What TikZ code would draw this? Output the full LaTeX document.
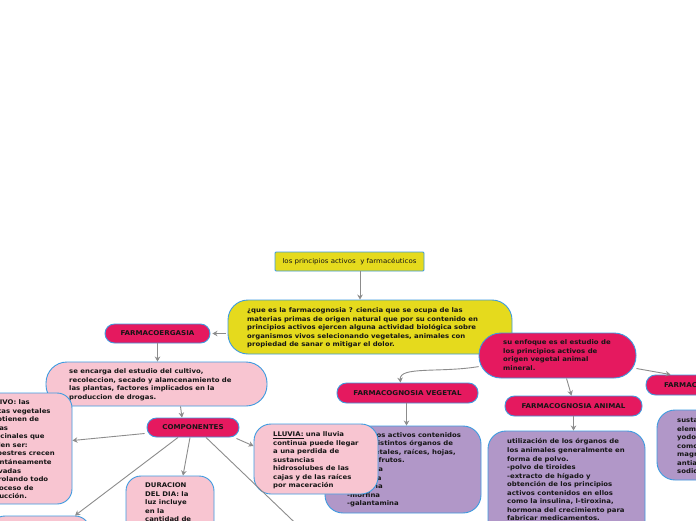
\documentclass[tikz,border=0pt]{standalone}
\usepackage{fontspec}
\setmainfont{DejaVu Sans}[FakeStretch=1.08]
\usetikzlibrary{arrows.meta}
\definecolor{cyel}{HTML}{E5DA1D}
\definecolor{cred}{HTML}{E5195F}
\definecolor{cpink}{HTML}{F8C5D1}
\definecolor{cpur}{HTML}{B197C8}
\definecolor{cblue}{HTML}{3D9BE0}
\definecolor{cgrey}{HTML}{8C8C8C}
\definecolor{ctxt}{HTML}{151515}
\tikzset{
 box/.style={draw=cblue, line width=0.9pt, inner sep=0pt},
 ybox/.style={box, fill=cyel},
 rbox/.style={box, fill=cred, rounded corners=9.5pt, text=ctxt, font=\fontsize{6.6}{8}\selectfont\bfseries},
 pbox/.style={box, fill=cpink},
 vbox/.style={box, fill=cpur},
 txt/.style={anchor=north west, inner sep=0pt, align=left, font=\fontsize{6.4}{8.55}\selectfont\bfseries, text=ctxt},
 conn/.style={draw=cgrey, line width=0.9pt, -{Stealth[length=5pt,width=5.5pt]}},
}
\begin{document}
\begin{tikzpicture}[x=1pt,y=-1pt]
\useasboundingbox (0,0) rectangle (696,520);
\clip (0,0) rectangle (696,520);
\fill[white] (0,0) rectangle (696,520);

% title
\node[ybox, rounded corners=1pt, minimum width=149pt, minimum height=19pt, font=\fontsize{6.5}{8}\selectfont, text=ctxt] (title) at (349.5,261.5) {los principios activos \ y farmacéuticos};

% question
\node[ybox, rounded corners=20pt, minimum width=284pt, minimum height=54pt] (question) at (370,327) {};
\node[txt] (questionT) at (247,307.6) {¿que es la farmacognosia ? ciencia que se ocupa de las\\materias primas de origen natural que por su contenido en\\principios activos ejercen alguna actividad biológica sobre\\organismos vivos selecionando vegetales, animales con\\propiedad de sanar o mitigar el dolor.};

% farmacoergasia branch
\node[rbox, minimum width=105pt, minimum height=19pt] (ergasia) at (157.5,333.5) {FARMACOERGASIA};
\node[pbox, rounded corners=21pt, minimum width=221pt, minimum height=44pt] (encarga) at (156.5,384) {};
\node[txt] (encargaT) at (69,368.6) {se encarga del estudio del cultivo,\\recoleccion, secado y alamcenamiento de\\las plantas, factores implicados en la\\produccion de drogas.};
\node[rbox, minimum width=92pt, minimum height=19pt] (componentes) at (193,427.5) {COMPONENTES};

\node[pbox, rounded corners=15pt, minimum width=112pt, minimum height=111pt] (cultivo) at (16,448.5) {};
\node[txt] (cultivoT) at (-19,399.6) {CULTIVO: las\\plantas vegetales\\se obtienen de\\drogas\\medicinales que\\pueden ser:\\campestres crecen\\espontáneamente\\cultivadas\\controlando todo\\el proceso de\\producción.};

\node[pbox, rounded corners=15pt, minimum width=88pt, minimum height=104pt] (duracion) at (170,528) {};
\node[txt] (duracionT) at (145,482.6) {DURACION\\DEL DIA: la\\luz incluye\\en la\\cantidad de};

\node[pbox, rounded corners=15pt, minimum width=100pt, minimum height=60pt] (bl) at (40,546) {};
\coordinate (brEnd) at (337,563);

% vegetal / animal / mineral
\node[rbox, rounded corners=22pt, minimum width=157pt, minimum height=45pt] (enfoque) at (557.5,355.5) {};
\node[txt] (enfoqueT) at (503,339.6) {su enfoque es el estudio de\\los principios activos de\\origen vegetal animal\\mineral.};

\node[rbox, minimum width=141pt, minimum height=20pt] (vegetal) at (407.5,393) {FARMACOGNOSIA VEGETAL};
\node[vbox, rounded corners=18pt, minimum width=156pt, minimum height=87pt] (pveg) at (403,469.5) {};
\node[txt] (pvegT) at (347,432.2) {principios activos contenidos\\en los distintos órganos de\\los vegetales, raíces, hojas,\\flores y frutos.\\-atropina\\-nicotina\\-efedrina\\-morfina\\-galantamina};

\node[pbox, rounded corners=17pt, minimum width=124pt, minimum height=70pt] (lluvia) at (316,459) {};
\node[txt] (lluviaT) at (273,431.6) {\underline{LLUVIA:} una lluvia\\continua puede llegar\\a una perdida de\\sustancias\\hidrosolubes de las\\cajas y de las raíces\\por maceración};

\node[rbox, minimum width=137pt, minimum height=20pt] (animal) at (573.5,406) {FARMACOGNOSIA ANIMAL};
\node[vbox, rounded corners=18pt, minimum width=157pt, minimum height=109pt] (panimal) at (566.5,485.5) {};
\node[txt] (panimalT) at (507,438.6) {utilización de los órganos de\\los animales generalmente en\\forma de polvo.\\-polvo de tiroides\\-extracto de hígado y\\obtención de los principios\\activos contenidos en ellos\\como la insulina, l-tiroxina,\\hormona del crecimiento para\\fabricar medicamentos.};

\node[rbox, minimum width=145pt, minimum height=20pt] (mineral) at (718.5,385) {FARMACOGNOSIA MINERAL};
\node[vbox, rounded corners=18pt, minimum width=123pt, minimum height=70pt] (pmin) at (718.5,445) {};
\node[txt] (pminT) at (677,417.6) {sustancias\\elementos\\yodo, hierro,\\como el\\magnesio,\\antiacidos\\sodio};

% connectors
\draw[conn] ([xshift=10.5pt]title.south) -- ([xshift=-10pt]question.north);
\draw[conn] ([xshift=-2pt]question.west |- ergasia.east) -- ([xshift=2pt]ergasia.east);
\draw[conn] (ergasia.south) -- (ergasia.south |- encarga.north);
\draw[conn] ([xshift=24pt]encarga.south) -- ([xshift=-11pt]componentes.north);
\draw[conn] ([xshift=-2pt,yshift=-6pt]componentes.west) -- ([yshift=8pt]cultivo.east);
\draw[conn] ([xshift=-3pt]componentes.south) -- ([xshift=13pt]duracion.north);
\draw[conn] ([xshift=-3pt,yshift=-1pt]componentes.south east) -- ([yshift=13pt]lluvia.west);
\draw[conn] ([xshift=-15pt]componentes.south) -- ([xshift=35pt]bl.north);
\draw[conn] ([xshift=13pt]componentes.south) -- (brEnd);

\draw[conn] (enfoque.188) .. controls (440,373) and (399,366) .. ([xshift=-7pt]vegetal.north);
\draw[conn] ([xshift=9pt]enfoque.south) -- ([xshift=-2pt]animal.north);
\draw[conn] ([yshift=-13pt]enfoque.east) -- ([xshift=25pt]mineral.north west);
\draw[conn] ([xshift=-1pt]vegetal.south) -- ([xshift=-1pt]vegetal.south |- pveg.north);
\draw[conn] (animal.south) -- (animal.south |- panimal.north);
\end{tikzpicture}
\end{document}
